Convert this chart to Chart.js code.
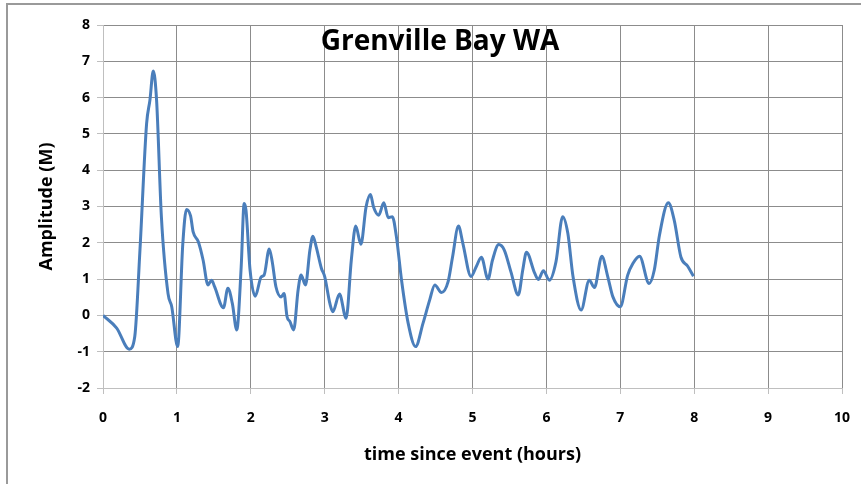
<!DOCTYPE html>
<html>
<head>
<meta charset="utf-8">
<title>Grenville Bay WA</title>
<script src="https://cdn.jsdelivr.net/npm/chart.js@4.4.0/dist/chart.umd.min.js"></script>
<style>
    html, body { margin: 0; padding: 0; background: #fff; }
    #wrap { width: 861px; height: 484px; }
</style>
</head>
<body>
<div id="wrap"><canvas id="chart" width="861" height="484"></canvas></div>
<script>

// 
// Values:
// 
var chartTitle = 'Grenville Bay WA';
var xTitle = 'time since event (hours)';
var yTitle = 'Amplitude (M)';
var xTicks = [0, 1, 2, 3, 4, 5, 6, 7, 8, 9, 10];
var yTicks = [-2, -1, 0, 1, 2, 3, 4, 5, 6, 7, 8];

var hours = [
    0, 0.185, 0.355, 0.43, 0.5, 0.59, 0.635, 0.68, 0.725, 0.79,
    0.88, 0.93, 1.01, 1.08, 1.13, 1.185, 1.22, 1.29, 1.355, 1.42,
    1.47, 1.51, 1.63, 1.69, 1.75, 1.81, 1.87, 1.91, 1.935, 1.99,
    2.06, 2.14, 2.18, 2.25, 2.29, 2.34, 2.41, 2.45, 2.49, 2.53,
    2.58, 2.64, 2.68, 2.74, 2.80, 2.84, 2.885, 2.955, 3.0, 3.07,
    3.11, 3.2, 3.29, 3.36, 3.42, 3.49, 3.56, 3.62, 3.66, 3.73,
    3.80, 3.86, 3.915, 3.97, 4.04, 4.13, 4.23, 4.33, 4.42, 4.49,
    4.58, 4.67, 4.73, 4.81, 4.87, 4.98, 5.05, 5.12, 5.21, 5.27,
    5.355, 5.43, 5.52, 5.62, 5.68, 5.73, 5.84, 5.89, 5.96, 6.04,
    6.13, 6.22, 6.29, 6.36, 6.47, 6.58, 6.65, 6.75, 6.83, 6.90,
    7.0, 7.10, 7.17, 7.26, 7.39, 7.46, 7.53, 7.65, 7.73, 7.82,
    7.91, 7.99
];
var amplitude = [
    0, -0.35, -0.93, -0.58, 1.8, 5.28, 5.93, 6.73, 5.93, 2.72,
    0.6, 0.24, -0.86, 1.98, 2.92, 2.74, 2.3, 2.03, 1.52, 0.84,
    0.97, 0.79, 0.21, 0.75, 0.33, -0.40, 1.34, 3.08, 2.9, 1.25,
    0.53, 1.06, 1.11, 1.83, 1.48, 0.79, 0.51, 0.6, -0.03, -0.17,
    -0.40, 0.70, 1.11, 0.84, 1.80, 2.18, 1.89, 1.30, 1.07, 0.33,
    0.1, 0.59, -0.08, 1.52, 2.46, 1.96, 2.99, 3.33, 2.99, 2.76,
    3.10, 2.69, 2.72, 2.17, 0.97, -0.22, -0.86, -0.22, 0.42, 0.84,
    0.63, 0.93, 1.61, 2.46, 1.98, 1.07, 1.34, 1.6, 1.0, 1.52,
    1.95, 1.8, 1.2, 0.56, 1.25, 1.74, 1.17, 0.99, 1.23, 0.97,
    1.48, 2.72, 2.26, 1.07, 0.15, 0.97, 0.77, 1.63, 1.07, 0.51,
    0.24, 1.11, 1.43, 1.63, 0.88, 1.25, 2.21, 3.10, 2.62, 1.61,
    1.36, 1.08
];

(function () {
    var points = [];
    for (var i = 0; i < hours.length; ++i) {
        points.push({x: hours[i], y: amplitude[i]});
    }

    // 
    // Outer chart frame and the title sitting inside the plot area.
    // 
    var decorations = {
        id: 'decorations',
        beforeDraw: function (chart) {
            var ctx = chart.ctx;
            ctx.save();
            ctx.fillStyle = '#ffffff';
            ctx.fillRect(0, 0, chart.width, chart.height);
            ctx.strokeStyle = '#9a9a9a';
            ctx.lineWidth = 2;
            ctx.strokeRect(7, 4, chart.width + 20, chart.height + 20);
            ctx.restore();
        },
        afterDatasetsDraw: function (chart) {
            var ctx = chart.ctx;
            ctx.save();
            ctx.fillStyle = '#000000';
            ctx.font = 'bold 28px "Open Sans"';
            ctx.textAlign = 'center';
            ctx.textBaseline = 'alphabetic';
            ctx.fillText(chartTitle, 440, 50);
            ctx.restore();
        }
    };

    var tickFont = {family: '"Open Sans"', size: 14, weight: 'bold'};
    var titleFont = {family: '"Open Sans"', size: 18, weight: 'bold'};

    new Chart(document.getElementById('chart'), {
        type: 'line',
        data: {
            datasets: [{
                data: points,
                borderColor: '#4a7ebb',
                borderWidth: 3,
                pointRadius: 0,
                cubicInterpolationMode: 'monotone',
                fill: false
            }]
        },
        options: {
            responsive: false,
            animation: false,
            layout: {padding: {top: 25, right: 19, left: 0, bottom: 0}},
            plugins: {legend: {display: false}, tooltip: {enabled: false}},
            scales: {
                x: {
                    type: 'linear',
                    min: xTicks[0],
                    max: xTicks[xTicks.length - 1],
                    afterFit: function (scale) {
                        scale.height = 96;
                        scale.paddingLeft = 0;
                        scale.paddingRight = 0;
                    },
                    afterBuildTicks: function (scale) {
                        scale.ticks = xTicks.map(function (v) { return {value: v}; });
                    },
                    grid: {color: '#8c8c8c', tickColor: '#bfbfbf', tickLength: 6},
                    border: {color: '#bfbfbf'},
                    ticks: {color: '#000', font: tickFont, padding: 16, maxRotation: 0},
                    title: {
                        display: true, text: xTitle, color: '#000',
                        font: titleFont,
                        padding: {bottom: 18}
                    }
                },
                y: {
                    min: yTicks[0],
                    max: yTicks[yTicks.length - 1],
                    afterFit: function (scale) {
                        scale.width = 103;
                        scale.paddingTop = 0;
                        scale.paddingBottom = 0;
                    },
                    afterBuildTicks: function (scale) {
                        scale.ticks = yTicks.map(function (v) { return {value: v}; });
                    },
                    grid: {color: '#8c8c8c', tickColor: '#bfbfbf', tickLength: 6},
                    border: {color: '#bfbfbf'},
                    ticks: {color: '#000', font: tickFont, padding: 7},
                    title: {
                        display: true, text: yTitle, color: '#000',
                        font: titleFont,
                        padding: {top: 36}
                    }
                }
            }
        },
        plugins: [decorations]
    });
}());
</script>
</body>
</html>
